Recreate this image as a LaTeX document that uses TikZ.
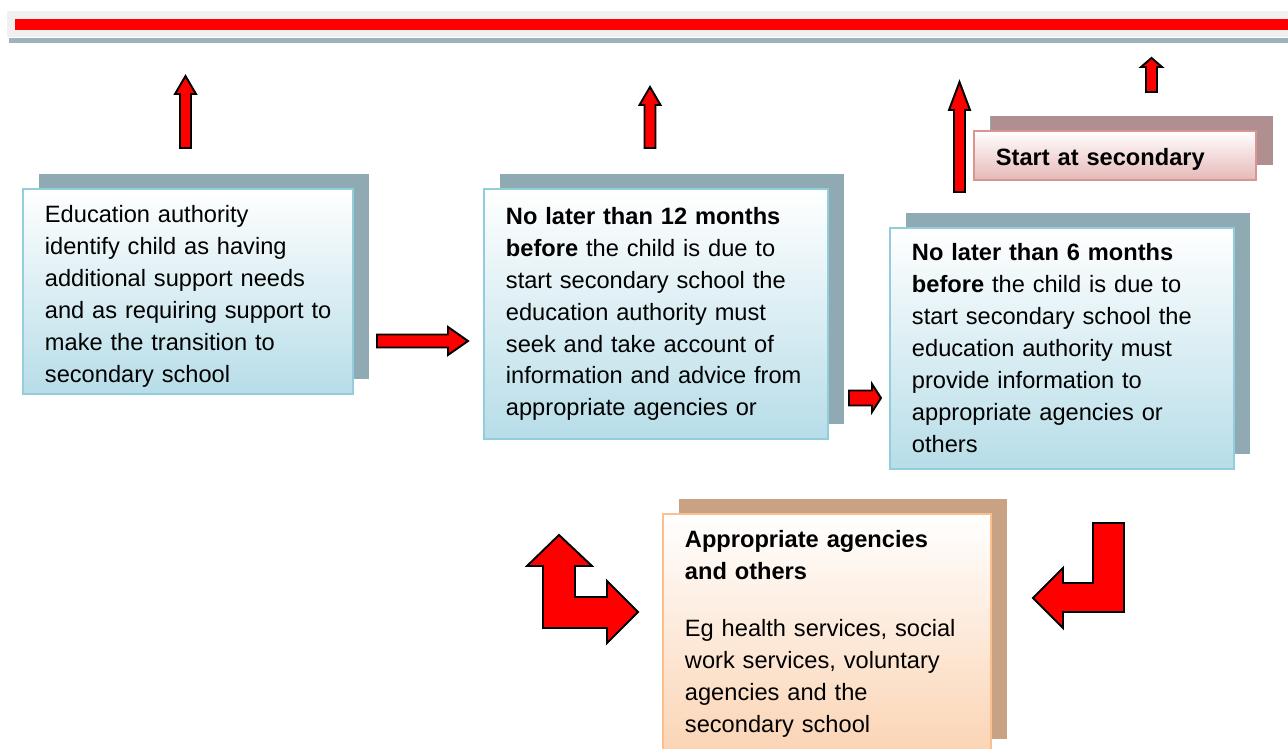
\documentclass[tikz,border=0pt]{standalone}
\usepackage{fontspec}
\setmainfont{Liberation Sans}
\usetikzlibrary{shadows}

\definecolor{boxBlue}{HTML}{B7DDE8}
\definecolor{borderBlue}{HTML}{92CDDC}
\definecolor{shadowBlue}{HTML}{8FAAB3}
\definecolor{boxPeach}{HTML}{FBD4B4}
\definecolor{borderPeach}{HTML}{FAC090}
\definecolor{shadowPeach}{HTML}{C9A183}
\definecolor{boxPink}{HTML}{E5B9B7}
\definecolor{borderPink}{HTML}{D99594}
\definecolor{shadowPink}{HTML}{AF8F8F}
\definecolor{barGrey}{HTML}{F0F0F0}
\definecolor{barShadow}{HTML}{9DB3BC}

\newcommand{\boxFont}{\fontsize{13.45}{18.2}\selectfont}
% x, bottom, top, head length
\newcommand{\upArrow}[4]{%
   \draw[blockarrow] ({#1-5.5},#2) -- ({#1-5.5},{#3+#4}) -- ({#1-10.5},{#3+#4}) -- (#1,#3)
   -- ({#1+10.5},{#3+#4}) -- ({#1+5.5},{#3+#4}) -- ({#1+5.5},#2) -- cycle;}
% left, tip, y, head length, shaft half, head half
\newcommand{\rightArrow}[6]{%
   \draw[blockarrow] (#1,{#3-#5}) -- ({#2-#4},{#3-#5}) -- ({#2-#4},{#3-#6}) -- (#2,#3)
   -- ({#2-#4},{#3+#6}) -- ({#2-#4},{#3+#5}) -- (#1,{#3+#5}) -- cycle;}

\tikzset{
   blockarrow/.style={fill=red, draw=black, line width=1.1pt, line join=miter},
   stagebox/.style={anchor=north west, align=left, font=\boxFont, inner xsep=0.44cm,
      inner ysep=0pt, line width=1.1pt, draw=borderBlue, top color=white, bottom color=boxBlue,
      drop shadow={shadow xshift=0.32cm, shadow yshift=0.3cm, fill=shadowBlue, opacity=1}},
   agencybox/.style={stagebox, draw=borderPeach, bottom color=boxPeach,
      drop shadow={shadow xshift=0.32cm, shadow yshift=0.3cm, fill=shadowPeach, opacity=1}},
   startbox/.style={stagebox, draw=borderPink, bottom color=boxPink,
      drop shadow={shadow xshift=0.34cm, shadow yshift=0.3cm, fill=shadowPink, opacity=1}}
}

\begin{document}
\begin{tikzpicture}[x=0.02cm, y=-0.02cm]
   \useasboundingbox (0,0) rectangle (1288,749);
   \fill[white] (0,0) rectangle (1288,749);

   % title bar
   \fill[barGrey] (7,11) rectangle (1288,37);
   \fill[red] (15,19) rectangle (1288,30);
   \fill[barShadow] (9,38) rectangle (1288,43);

   \node[stagebox, text width=5.72cm, minimum height=4.1cm] (identify) at (22,188)
      {\rule{0pt}{15.5pt}Education authority\\ identify child as having\\ additional support needs\\
       \mbox{and as requiring support to}\\ make the transition to\\ secondary school};

   \node[stagebox, text width=6.0cm, minimum height=5.0cm] (twelve) at (483,188)
      {\textbf{No later than 12 months}\\ \textbf{before} the child is due to\\
       start secondary school the\\ education authority must\\ seek and take account of\\
       information and advice from\\ appropriate agencies or};

   \node[stagebox, text width=6.0cm, minimum height=4.82cm] (six) at (889,227)
      {\textbf{No later than 6 months}\\ \textbf{before} the child is due to\\
       start secondary school the\\ education authority must\\ provide information to\\
       appropriate agencies or\\ others};

   \node[startbox, text width=4.76cm, minimum height=0.98cm, text height=0.46cm,
      text depth=0.05cm] (start) at (973,130) {\textbf{Start at secondary}};

   \node[agencybox, text width=5.68cm, minimum height=4.8cm] (agencies) at (662,513)
      {\textbf{Appropriate agencies}\\ \textbf{and others}\\[14.5pt]
       Eg health services, social\\ work services, voluntary\\ agencies and the\\
       secondary school};

   % arrows
   \upArrow{185.5}{148}{76}{18}
   \upArrow{650}{148}{87}{18}
   \upArrow{959.5}{192}{82}{28}
   \upArrow{1151.5}{92}{58}{9}

   \rightArrow{377}{468}{341}{20}{6.5}{14}
   \rightArrow{849}{881}{398}{9}{7.5}{14}

   \draw[blockarrow] (559,535) -- (592,566) -- (575,566) -- (575,597) -- (607,597)
      -- (607,581) -- (638,612) -- (607,643) -- (607,628) -- (543,628) -- (543,566)
      -- (527,566) -- cycle;
   \draw[blockarrow] (1093,523) -- (1124,523) -- (1124,612) -- (1063,612) -- (1063,628)
      -- (1033,598) -- (1063,568) -- (1063,583) -- (1093,583) -- cycle;
\end{tikzpicture}
\end{document}
